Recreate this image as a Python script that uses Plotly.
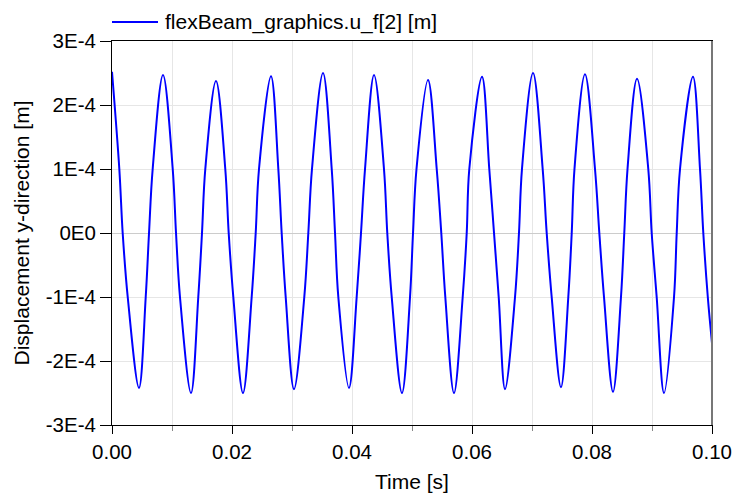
import plotly.graph_objects as go

# Time samples [s] (extrema, +/-1E-4 crossings and zero crossings)
time_s = [
    0.0, 0.00122, 0.00178, 0.00262,
    0.0045, 0.00562, 0.00617, 0.00678,
    0.0085, 0.01012, 0.01067, 0.01133,
    0.01317, 0.01438, 0.015, 0.01555,
    0.01733, 0.01888, 0.01945, 0.02022,
    0.02183, 0.02328, 0.02395, 0.0245,
    0.0265, 0.02772, 0.02828, 0.02895,
    0.03033, 0.03205, 0.03272, 0.03333,
    0.03517, 0.03662, 0.03717, 0.03772,
    0.0395, 0.04078, 0.0415, 0.04217,
    0.04367, 0.04533, 0.04588, 0.04662,
    0.04833, 0.04967, 0.05017, 0.05075,
    0.05267, 0.05412, 0.05488, 0.05555,
    0.057, 0.05845, 0.05912, 0.05955,
    0.06167, 0.06288, 0.06367, 0.06445,
    0.0655, 0.06717, 0.06783, 0.06833,
    0.07017, 0.07178, 0.07245, 0.07328,
    0.07483, 0.07605, 0.07662, 0.07708,
    0.07883, 0.0805, 0.08122, 0.082,
    0.0835, 0.08483, 0.08538, 0.08592,
    0.0875, 0.08938, 0.08995, 0.09078,
    0.092, 0.09367, 0.09412, 0.09467,
    0.09683, 0.098, 0.09855, 0.0993,
    0.1,
]

# Displacement y-direction [m]
u_f2 = [
    2.52e-4, 1e-4, 0.0, -1e-4,
    -2.42e-4, -1e-4, 0.0, 1e-4,
    2.47e-4, 1e-4, 0.0, -1e-4,
    -2.50e-4, -1e-4, 0.0, 1e-4,
    2.375e-4, 1e-4, 0.0, -1e-4,
    -2.50e-4, -1e-4, 0.0, 1e-4,
    2.45e-4, 1e-4, 0.0, -1e-4,
    -2.44e-4, -1e-4, 0.0, 1e-4,
    2.50e-4, 1e-4, 0.0, -1e-4,
    -2.42e-4, -1e-4, 0.0, 1e-4,
    2.47e-4, 1e-4, 0.0, -1e-4,
    -2.50e-4, -1e-4, 0.0, 1e-4,
    2.39e-4, 1e-4, 0.0, -1e-4,
    -2.50e-4, -1e-4, 0.0, 1e-4,
    2.44e-4, 1e-4, 0.0, -1e-4,
    -2.44e-4, -1e-4, 0.0, 1e-4,
    2.50e-4, 1e-4, 0.0, -1e-4,
    -2.41e-4, -1e-4, 0.0, 1e-4,
    2.48e-4, 1e-4, 0.0, -1e-4,
    -2.48e-4, -1e-4, 0.0, 1e-4,
    2.41e-4, 1e-4, 0.0, -1e-4,
    -2.50e-4, -1e-4, 0.0, 1e-4,
    2.44e-4, 1e-4, 0.0, -1e-4,
    -1.72e-4,
]

series_name = "flexBeam_graphics.u_f[2] [m]"
y_tick_vals = [-3e-4, -2e-4, -1e-4, 0.0, 1e-4, 2e-4, 3e-4]
y_tick_text = ["-3E-4", "-2E-4", "-1E-4", "0E0", "1E-4", "2E-4", "3E-4"]

FONT = "Liberation Sans, Arial, sans-serif"
BLUE = "#0000FF"

fig = go.Figure()
fig.add_trace(go.Scatter(
    x=time_s, y=u_f2, mode="lines", name=series_name, showlegend=False,
    line=dict(color=BLUE, width=2, shape="spline", smoothing=1.0),
))

# legend drawn as a longer sample line + text (as in the reference)
leg_y = 1 + (41 - 22) / 384
fig.add_shape(type="line", xref="paper", yref="paper",
              x0=0, x1=46 / 600, y0=leg_y, y1=leg_y,
              line=dict(color=BLUE, width=2))
fig.add_annotation(xref="paper", yref="paper", x=(163 - 112) / 600, y=leg_y,
                   xanchor="left", yanchor="middle", showarrow=False,
                   text=series_name, font=dict(size=21, color="#000"))

fig.update_layout(
    width=736, height=494,
    margin=dict(l=112, r=24, t=41, b=69, autoexpand=False),
    paper_bgcolor="white", plot_bgcolor="white",
    font=dict(family=FONT, size=21, color="#000"),
    showlegend=False,
    xaxis=dict(
        range=[0, 0.1], dtick=0.02, tick0=0, tickformat=".2f",
        showgrid=True, gridcolor="#e6e6e6", gridwidth=1,
        showline=True, linecolor="#000", linewidth=1, mirror=True,
        ticks="outside", ticklen=8, tickcolor="#000",
        tickfont=dict(size=20.5),
        minor=dict(dtick=0.01, tick0=0, ticks="outside", ticklen=5,
                   tickcolor="#888", showgrid=True, gridcolor="#e6e6e6"),
        zeroline=False, automargin=False,
        title=dict(text="Time [s]", standoff=12, font=dict(size=21)),
    ),
    yaxis=dict(
        range=[-3e-4, 3e-4],
        tickmode="array", tickvals=y_tick_vals, ticktext=y_tick_text,
        showgrid=True, gridcolor="#e6e6e6", gridwidth=1,
        zeroline=True, zerolinecolor="#cccccc", zerolinewidth=1,
        showline=True, linecolor="#000", linewidth=1, mirror=True,
        ticks="outside", ticklen=11, tickcolor="#000",
        tickfont=dict(size=20.5), automargin=False,
        title=dict(text="Displacement y-direction [m]", standoff=10,
                   font=dict(size=21)),
    ),
    shapes=[
        dict(type="line", xref="paper", yref="paper", x0=0, x1=1, y0=1, y1=1,
             line=dict(color="#666666", width=2), layer="above"),
        dict(type="line", xref="paper", yref="paper", x0=1, x1=1, y0=0, y1=1,
             line=dict(color="#777777", width=2), layer="above"),
    ],
)

fig.write_html(
    "out.html",
    config={"displayModeBar": False},
    post_script="document.body.style.margin='0';document.body.style.overflow='hidden';",
)
